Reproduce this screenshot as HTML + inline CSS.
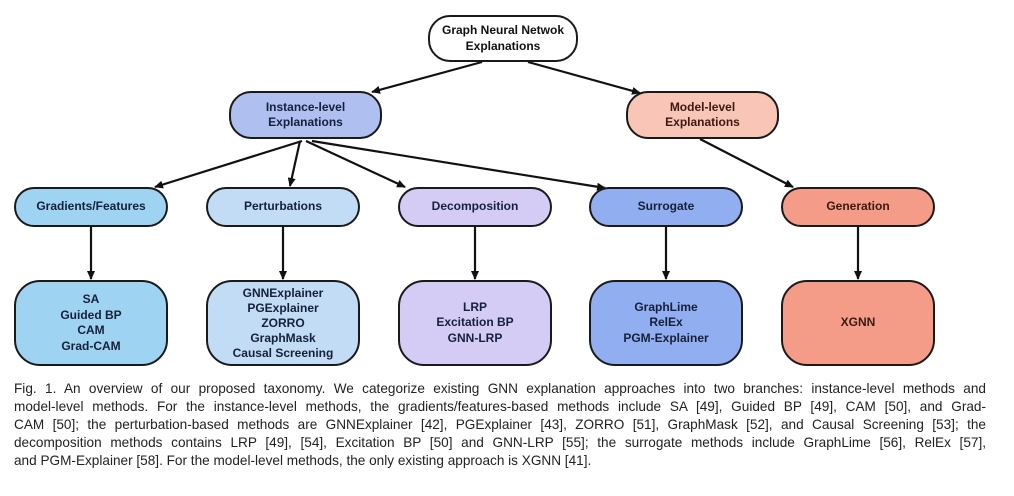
<!DOCTYPE html>
<html><head><meta charset="utf-8"><style>
body{margin:0;background:#fff;width:1014px;height:496px;overflow:hidden;font-family:"Liberation Sans",sans-serif;}
.n{position:absolute;border:2px solid #1a1a1a;box-sizing:border-box;display:flex;align-items:center;justify-content:center;text-align:center;font-weight:bold;font-size:12px;line-height:15.5px;color:#15203a;}
.r{border-radius:22px}
.b{border-radius:26px}
.cap{position:absolute;left:14px;top:380px;width:972px;font-size:13.6px;line-height:18px;color:#222;}
.cap div{white-space:nowrap;text-align:justify;text-align-last:justify;}
.cap div.l{text-align-last:left;}
</style></head><body>
<svg width="1014" height="380" style="position:absolute;left:0;top:0">
<defs><marker id="a" markerWidth="10" markerHeight="10" refX="8" refY="5" orient="auto" markerUnits="userSpaceOnUse"><path d="M0,1 L9,5 L0,9 z" fill="#111"/></marker></defs>
<g stroke="#111" stroke-width="2.2" fill="none" marker-end="url(#a)">
<line x1="482" y1="62" x2="372" y2="92"/>
<line x1="528" y1="62" x2="640" y2="93"/>
<line x1="302" y1="141" x2="155" y2="187"/>
<line x1="300" y1="141" x2="290" y2="186"/>
<line x1="306" y1="141" x2="405" y2="187"/>
<line x1="312" y1="141" x2="605" y2="188"/>
<line x1="700" y1="139" x2="793" y2="187"/>
<line x1="91" y1="227" x2="91" y2="279"/>
<line x1="283" y1="227" x2="283" y2="279"/>
<line x1="475" y1="227" x2="475" y2="279"/>
<line x1="666" y1="227" x2="666" y2="279"/>
<line x1="858" y1="227" x2="858" y2="279"/>
</g></svg>
<div class="n r" style="left:428px;top:15px;width:150px;height:47px;background:#fff;color:#111">Graph Neural Netwok<br>Explanations</div>
<div class="n r" style="left:229px;top:91px;width:153px;height:48px;background:#aebff0">Instance-level<br>Explanations</div>
<div class="n r" style="left:626px;top:91px;width:153px;height:48px;background:#f8c5b6;color:#3a1a12">Model-level<br>Explanations</div>
<div class="n r" style="left:14px;top:187px;width:154px;height:40px;background:#9fd3f2">Gradients/Features</div>
<div class="n r" style="left:206px;top:187px;width:154px;height:40px;background:#c3dcf5">Perturbations</div>
<div class="n r" style="left:398px;top:187px;width:154px;height:40px;background:#d4ccf5">Decomposition</div>
<div class="n r" style="left:589px;top:187px;width:154px;height:40px;background:#91aef0">Surrogate</div>
<div class="n r" style="left:781px;top:187px;width:154px;height:40px;background:#f59c88;color:#3a1a12">Generation</div>
<div class="n b" style="left:14px;top:280px;width:154px;height:86px;background:#9fd3f2">SA<br>Guided BP<br>CAM<br>Grad-CAM</div>
<div class="n b" style="left:206px;top:280px;width:154px;height:86px;background:#c3dcf5;line-height:15px">GNNExplainer<br>PGExplainer<br>ZORRO<br>GraphMask<br>Causal Screening</div>
<div class="n b" style="left:398px;top:280px;width:154px;height:86px;background:#d4ccf5">LRP<br>Excitation BP<br>GNN-LRP</div>
<div class="n b" style="left:589px;top:280px;width:154px;height:86px;background:#91aef0">GraphLime<br>RelEx<br>PGM-Explainer</div>
<div class="n b" style="left:781px;top:280px;width:154px;height:86px;background:#f59c88;color:#3a1a12">XGNN</div>
<div class="cap">
<div>Fig. 1. An overview of our proposed taxonomy. We categorize existing GNN explanation approaches into two branches: instance-level methods and</div>
<div>model-level methods. For the instance-level methods, the gradients/features-based methods include SA [49], Guided BP [49], CAM [50], and Grad-</div>
<div>CAM [50]; the perturbation-based methods are GNNExplainer [42], PGExplainer [43], ZORRO [51], GraphMask [52], and Causal Screening [53]; the</div>
<div>decomposition methods contains LRP [49], [54], Excitation BP [50] and GNN-LRP [55]; the surrogate methods include GraphLime [56], RelEx [57],</div>
<div class="l">and PGM-Explainer [58]. For the model-level methods, the only existing approach is XGNN [41].</div>
</div>
</body></html>
